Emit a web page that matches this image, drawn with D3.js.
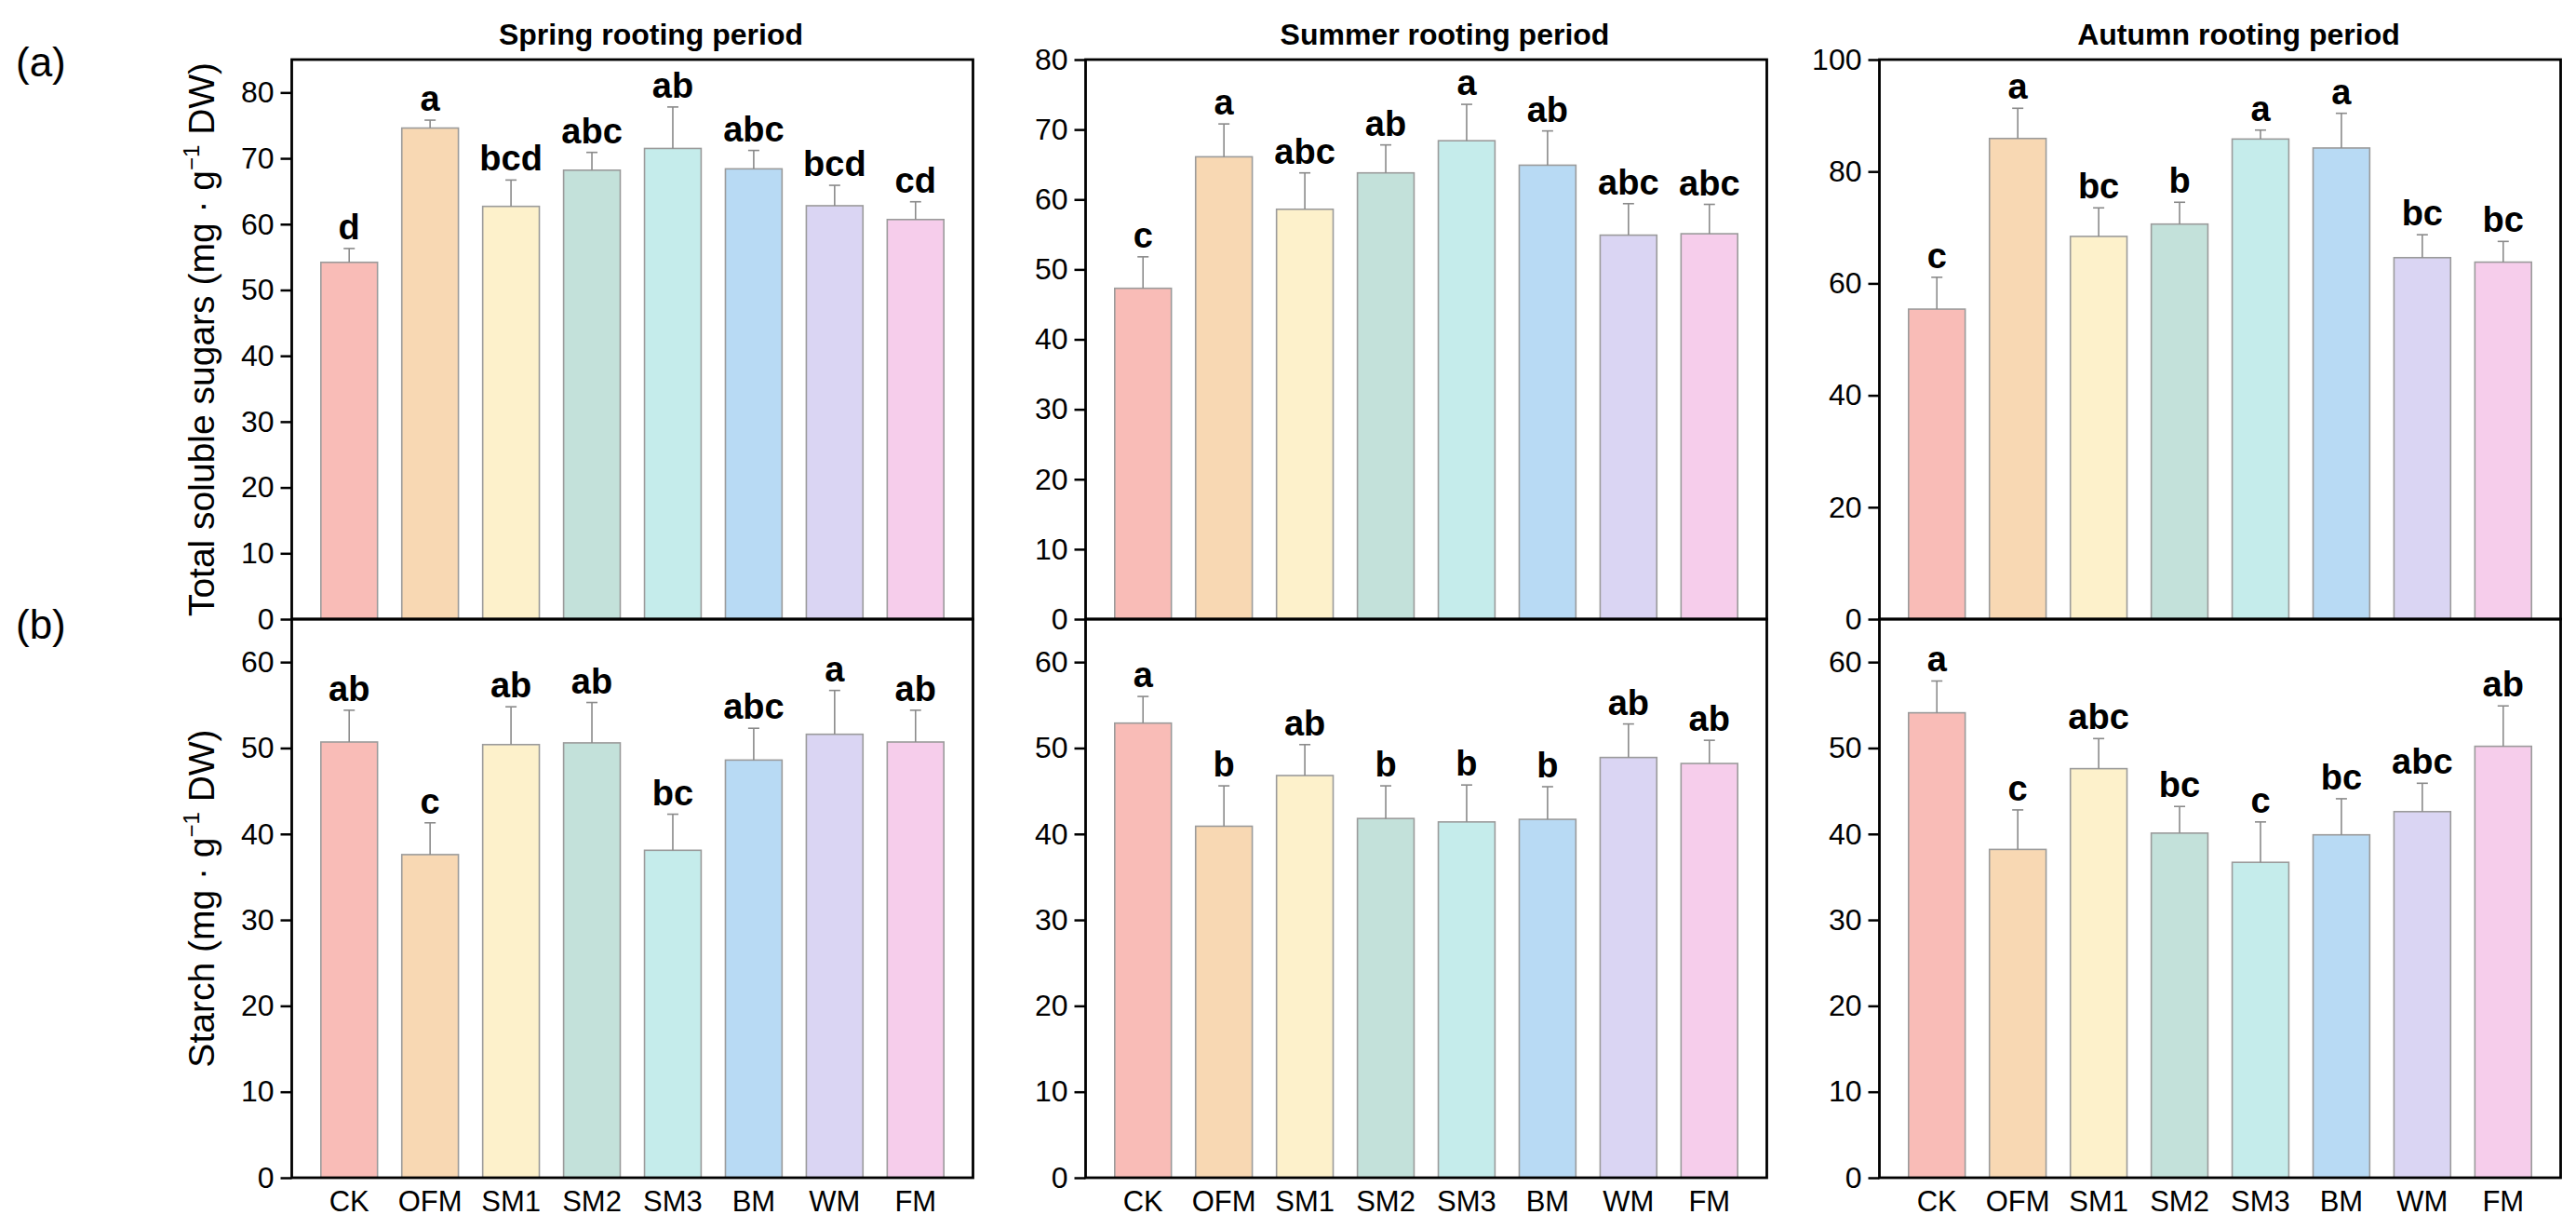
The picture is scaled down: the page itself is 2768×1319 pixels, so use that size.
<!DOCTYPE html>
<html>
<head>
<meta charset="utf-8">
<script src="https://cdn.jsdelivr.net/npm/d3@7"></script>
<style>
  html, body { margin: 0; padding: 0; background: #fff; }
  text { font-family: "Liberation Sans", Arial, Helvetica, sans-serif; }
</style>
</head>
<body>
<svg id="chart" width="2768" height="1319"></svg>
<script>
// ---------- data ----------
const categories = ["CK", "OFM", "SM1", "SM2", "SM3", "BM", "WM", "FM"];
const periods = ["Spring rooting period", "Summer rooting period", "Autumn rooting period"];
const barColors = ["#F9BCB7", "#F8D8B3", "#FDF1CB", "#C3E1DA", "#C5ECEB", "#B8DAF4", "#DAD5F3", "#F6CDEB"];

const sugarSpring = [54.2, 74.6, 62.7, 68.2, 71.5, 68.4, 62.8, 60.7];
const sugarSpringErr = [2.1, 1.2, 4.0, 2.7, 6.3, 2.8, 3.1, 2.7];
const sugarSpringLetters = ["d", "a", "bcd", "abc", "ab", "abc", "bcd", "cd"];

const sugarSummer = [47.3, 66.1, 58.6, 63.8, 68.4, 64.9, 54.9, 55.1];
const sugarSummerErr = [4.5, 4.7, 5.2, 4.0, 5.2, 4.9, 4.5, 4.2];
const sugarSummerLetters = ["c", "a", "abc", "ab", "a", "ab", "abc", "abc"];

const sugarAutumn = [55.4, 85.9, 68.4, 70.6, 85.8, 84.2, 64.6, 63.8];
const sugarAutumnErr = [5.7, 5.4, 5.1, 3.9, 1.6, 6.2, 4.1, 3.7];
const sugarAutumnLetters = ["c", "a", "bc", "b", "a", "a", "bc", "bc"];

const starchSpring = [50.7, 37.6, 50.4, 50.6, 38.1, 48.6, 51.6, 50.7];
const starchSpringErr = [3.7, 3.7, 4.4, 4.7, 4.2, 3.7, 5.1, 3.7];
const starchSpringLetters = ["ab", "c", "ab", "ab", "bc", "abc", "a", "ab"];

const starchSummer = [52.9, 40.9, 46.8, 41.8, 41.4, 41.7, 48.9, 48.2];
const starchSummerErr = [3.1, 4.7, 3.6, 3.8, 4.3, 3.8, 3.9, 2.7];
const starchSummerLetters = ["a", "b", "ab", "b", "b", "b", "ab", "ab"];

const starchAutumn = [54.1, 38.2, 47.6, 40.1, 36.7, 39.9, 42.6, 50.2];
const starchAutumnErr = [3.7, 4.6, 3.5, 3.1, 4.7, 4.2, 3.3, 4.7];
const starchAutumnLetters = ["a", "c", "abc", "bc", "c", "bc", "abc", "ab"];

const sugarMax = [85, 80, 100];
const sugarTicks = [d3.range(0, 81, 10), d3.range(0, 81, 10), d3.range(0, 101, 20)];
const starchMax = [65, 65, 65];
const starchTicks = [d3.range(0, 61, 10), d3.range(0, 61, 10), d3.range(0, 61, 10)];

// ---------- layout ----------
const svg = d3.select("#chart");
const panelLeft = [313.5, 1166.5, 2019.5];
const panelW = 732;
const rowTop = [64, 665];
const rowBottom = [665, 1265];

const rows = [
  { values: [sugarSpring, sugarSummer, sugarAutumn],
    errs: [sugarSpringErr, sugarSummerErr, sugarAutumnErr],
    letters: [sugarSpringLetters, sugarSummerLetters, sugarAutumnLetters],
    max: sugarMax, ticks: sugarTicks },
  { values: [starchSpring, starchSummer, starchAutumn],
    errs: [starchSpringErr, starchSummerErr, starchAutumnErr],
    letters: [starchSpringLetters, starchSummerLetters, starchAutumnLetters],
    max: starchMax, ticks: starchTicks }
];

rows.forEach((row, r) => {
  for (let p = 0; p < 3; p++) {
    const x0 = panelLeft[p];
    const x = d3.scaleBand().domain(categories)
      .range([x0, x0 + panelW]).paddingInner(0.3).paddingOuter(0.36);
    const y = d3.scaleLinear().domain([0, row.max[p]]).range([rowBottom[r], rowTop[r]]);
    const g = svg.append("g");
    const vals = row.values[p], errs = row.errs[p], lets = row.letters[p];

    // bars
    g.selectAll("rect.bar").data(categories).join("rect")
      .attr("class", "bar")
      .attr("x", d => x(d))
      .attr("width", x.bandwidth())
      .attr("y", (d, i) => y(vals[i]))
      .attr("height", (d, i) => y(0) - y(vals[i]))
      .attr("fill", (d, i) => barColors[i])
      .attr("stroke", "#9b9b9b")
      .attr("stroke-width", 1.6);

    // error bars
    const cx = d => x(d) + x.bandwidth() / 2;
    g.selectAll("line.err").data(categories).join("line")
      .attr("x1", cx).attr("x2", cx)
      .attr("y1", (d, i) => y(vals[i]))
      .attr("y2", (d, i) => y(vals[i] + errs[i]))
      .attr("stroke", "#8a8a8a").attr("stroke-width", 1.6);
    g.selectAll("line.cap").data(categories).join("line")
      .attr("x1", d => cx(d) - 6).attr("x2", d => cx(d) + 6)
      .attr("y1", (d, i) => y(vals[i] + errs[i]))
      .attr("y2", (d, i) => y(vals[i] + errs[i]))
      .attr("stroke", "#8a8a8a").attr("stroke-width", 1.6);

    // significance letters
    g.selectAll("text.sig").data(categories).join("text")
      .attr("x", cx)
      .attr("y", (d, i) => y(vals[i] + errs[i]) - 10)
      .attr("text-anchor", "middle")
      .attr("font-size", 38).attr("font-weight", "bold")
      .attr("fill", "#000")
      .text((d, i) => lets[i]);

    // y axis
    const ya = g.append("g").attr("transform", `translate(${x0},0)`)
      .call(d3.axisLeft(y).tickValues(row.ticks[p]).tickSize(12).tickPadding(7).tickFormat(d3.format("d")));
    ya.select(".domain").remove();
    ya.selectAll(".tick line").attr("stroke", "#000").attr("stroke-width", 2.5);
    ya.selectAll(".tick text").attr("font-size", 32).attr("fill", "#000")
      .attr("font-family", "'Liberation Sans', Arial, sans-serif");

    // frame
    g.append("rect")
      .attr("x", x0).attr("y", rowTop[r])
      .attr("width", panelW).attr("height", rowBottom[r] - rowTop[r])
      .attr("fill", "none").attr("stroke", "#000").attr("stroke-width", 2.8);

    // x axis labels (bottom row only)
    if (r === 1) {
      const xa = g.append("g").attr("transform", `translate(0,${rowBottom[r]})`)
        .call(d3.axisBottom(x).tickSize(0).tickPadding(14));
      xa.select(".domain").remove();
      xa.selectAll(".tick text").attr("font-size", 31).attr("fill", "#000")
        .attr("font-family", "'Liberation Sans', Arial, sans-serif");
    }

    // titles (top row only)
    if (r === 0) {
      svg.append("text")
        .attr("x", x0 + panelW / 2 + 20).attr("y", 48)
        .attr("text-anchor", "middle")
        .attr("font-size", 32).attr("font-weight", "bold")
        .text(periods[p]);
    }
  }
});

// y-axis titles
function yTitle(cy, main) {
  const t = svg.append("text")
    .attr("transform", `translate(230,${cy}) rotate(-90)`)
    .attr("text-anchor", "middle")
    .attr("font-size", 39).attr("fill", "#000");
  t.append("tspan").text(main + " (mg \u00B7 g");
  t.append("tspan").attr("font-size", 24).attr("dy", -16).text("\u22121");
  t.append("tspan").attr("dy", 16).text(" DW)");
}
yTitle((rowTop[0] + rowBottom[0]) / 2, "Total soluble sugars");
yTitle((rowTop[1] + rowBottom[1]) / 2, "Starch");

// panel labels
svg.append("text").attr("x", 17).attr("y", 82).attr("font-size", 44).text("(a)");
svg.append("text").attr("x", 17).attr("y", 686).attr("font-size", 44).text("(b)");
</script>
</body>
</html>
